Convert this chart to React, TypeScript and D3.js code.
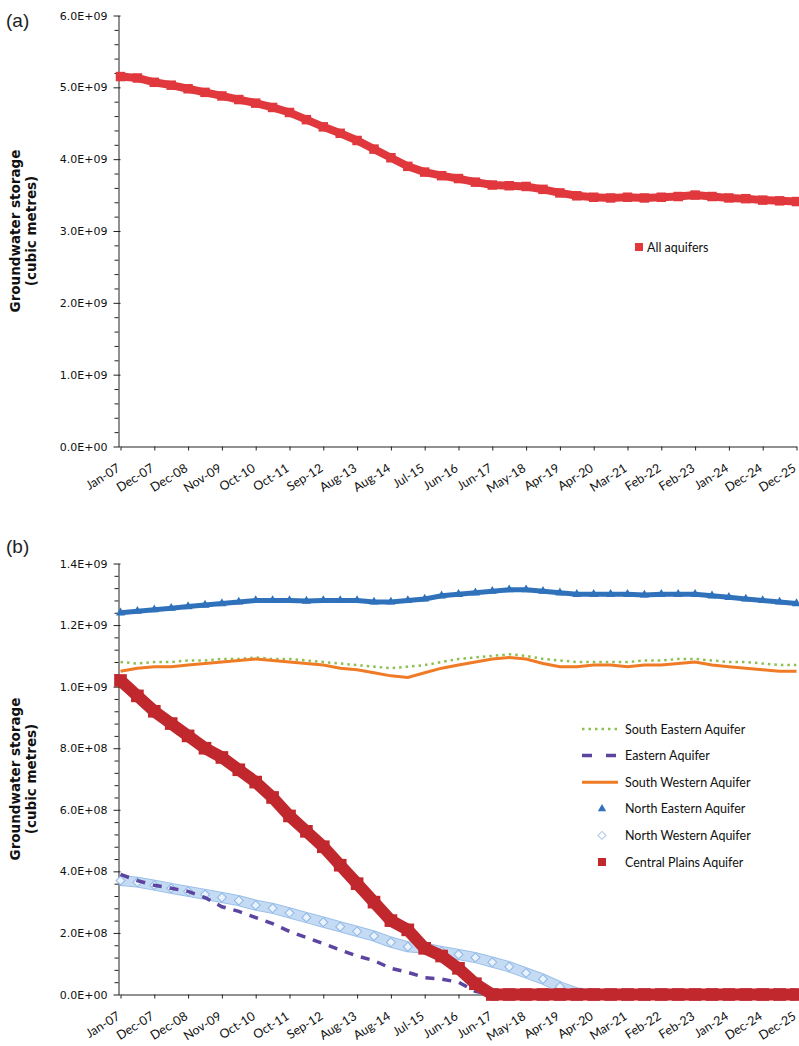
import React, { useEffect, useRef } from "react";
import * as d3 from "d3";

// x-axis tick labels (every second data point sits on a tick)
const tickLabels = [
  "Jan-07", "Dec-07", "Dec-08", "Nov-09", "Oct-10", "Oct-11", "Sep-12",
  "Aug-13", "Aug-14", "Jul-15", "Jun-16", "Jun-17", "May-18", "Apr-19",
  "Apr-20", "Mar-21", "Feb-22", "Feb-23", "Jan-24", "Dec-24", "Dec-25",
];

// panel (a), cubic metres x 1e9
const allAquifers = [
  5.15, 5.13, 5.07, 5.03, 4.98, 4.93, 4.88, 4.83, 4.78, 4.72, 4.65, 4.55,
  4.45, 4.36, 4.26, 4.14, 4.02, 3.9, 3.82, 3.77, 3.73, 3.68, 3.64, 3.63,
  3.62, 3.58, 3.53, 3.49, 3.47, 3.46, 3.47, 3.46, 3.47, 3.48, 3.5, 3.48,
  3.46, 3.45, 3.43, 3.42, 3.41,
];

// panel (b), cubic metres x 1e9
const southEastern = [
  1.08, 1.075, 1.08, 1.08, 1.085, 1.085, 1.09, 1.09, 1.095, 1.09, 1.09,
  1.085, 1.08, 1.075, 1.07, 1.065, 1.06, 1.065, 1.07, 1.08, 1.09, 1.095,
  1.1, 1.105, 1.1, 1.09, 1.085, 1.08, 1.08, 1.08, 1.08, 1.085, 1.085, 1.09,
  1.09, 1.085, 1.08, 1.08, 1.075, 1.07, 1.07,
];
const eastern = [
  0.39, 0.37, 0.355, 0.345, 0.335, 0.315, 0.285, 0.27, 0.25, 0.23, 0.205,
  0.185, 0.165, 0.145, 0.125, 0.11, 0.085, 0.072, 0.055, 0.05, 0.04, 0.01,
  0, 0, 0, 0, 0, 0, 0, 0, 0, 0, 0, 0, 0, 0, 0, 0, 0, 0, 0,
];
const southWestern = [
  1.05, 1.06, 1.065, 1.065, 1.07, 1.075, 1.08, 1.085, 1.09, 1.085, 1.08,
  1.075, 1.07, 1.06, 1.055, 1.045, 1.035, 1.03, 1.045, 1.06, 1.07, 1.08,
  1.09, 1.095, 1.09, 1.075, 1.065, 1.065, 1.07, 1.07, 1.065, 1.07, 1.07,
  1.075, 1.08, 1.07, 1.065, 1.06, 1.055, 1.05, 1.05,
];
const northEastern = [
  1.24, 1.245, 1.25, 1.255, 1.26, 1.265, 1.27, 1.275, 1.28, 1.28, 1.28,
  1.278, 1.28, 1.28, 1.28, 1.275, 1.275, 1.28, 1.285, 1.295, 1.3, 1.305,
  1.31, 1.315, 1.315, 1.31, 1.305, 1.3, 1.3, 1.3, 1.3, 1.298, 1.3, 1.3, 1.3,
  1.295, 1.29, 1.285, 1.28, 1.275, 1.27,
];
const northWestern = [
  0.37, 0.365, 0.355, 0.345, 0.335, 0.325, 0.315, 0.305, 0.29, 0.28, 0.265,
  0.25, 0.235, 0.22, 0.205, 0.19, 0.17, 0.155, 0.15, 0.14, 0.13, 0.12,
  0.105, 0.09, 0.07, 0.05, 0.025, 0.005, 0, 0, 0, 0, 0, 0, 0, 0, 0, 0, 0, 0, 0,
];
const centralPlains = [
  1.02, 0.97, 0.92, 0.88, 0.84, 0.8, 0.77, 0.73, 0.69, 0.64, 0.58, 0.53,
  0.48, 0.42, 0.36, 0.3, 0.24, 0.21, 0.15, 0.125, 0.085, 0.035, 0, 0, 0, 0,
  0, 0, 0, 0, 0, 0, 0, 0, 0, 0, 0, 0, 0, 0, 0,
];

const aTicks = [0, 1e9, 2e9, 3e9, 4e9, 5e9, 6e9];
const aTickLabels = ["0.0E+00", "1.0E+09", "2.0E+09", "3.0E+09", "4.0E+09", "5.0E+09", "6.0E+09"];
const bTicks = [0, 2e8, 4e8, 6e8, 8e8, 1e9, 1.2e9, 1.4e9];
const bTickLabels = ["0.0E+00", "2.0E+08", "4.0E+08", "6.0E+08", "8.0E+08", "1.0E+09", "1.2E+09", "1.4E+09"];

const W = 799;
const H = 1046;
const tickFont = "'DejaVu Sans', sans-serif";
const labelFont = "Lato, 'Open Sans', sans-serif";

export default function App() {
  const ref = useRef<SVGSVGElement>(null);

  useEffect(() => {
    const svg = d3.select(ref.current);
    svg.selectAll("*").remove();
    svg.append("rect").attr("width", W).attr("height", H).attr("fill", "#fff");

    const x = d3.scaleLinear().domain([0, allAquifers.length - 1]).range([120.5, 796.5]);

    function axes(y: d3.ScaleLinear<number, number>, top: number, majors: number[], labels: string[], minorStep: number) {
      const bottom = y.range()[0];
      // x axis
      const gx = svg.append("g").attr("transform", `translate(0,${bottom})`)
        .call(d3.axisBottom(x)
          .tickValues(d3.range(0, allAquifers.length, 2))
          .tickSize(4)
          .tickSizeOuter(0)
          .tickFormat((d: any) => tickLabels[d / 2]));
      gx.selectAll("path, line").attr("stroke", "#222");
      gx.selectAll("text")
        .attr("x", 0).attr("y", 0).attr("dy", 0)
        .attr("text-anchor", "end")
        .attr("transform", "translate(0,24) rotate(-32)")
        .attr("font-family", labelFont)
        .attr("font-size", 12.5)
        .attr("fill", "#111");

      // y axis, majors
      const gy = svg.append("g").attr("transform", "translate(118.5,0)")
        .call(d3.axisLeft(y)
          .tickValues(majors)
          .tickSize(5)
          .tickSizeOuter(0)
          .tickFormat((d, i) => labels[i]));
      gy.selectAll("path, line").attr("stroke", "#222");
      gy.selectAll(".tick line").attr("x2", 2).attr("x1", -5);
      gy.selectAll("text")
        .attr("x", -11)
        .attr("font-family", tickFont)
        .attr("font-size", 11)
        .attr("fill", "#111");

      // y axis, minors
      const minors = d3.range(0, y.domain()[1] + 1, minorStep).filter((v) => !majors.includes(v));
      const gm = svg.append("g").attr("transform", "translate(118.5,0)")
        .call(d3.axisLeft(y).tickValues(minors).tickSize(4).tickFormat(() => ""));
      gm.select(".domain").remove();
      gm.selectAll("line").attr("stroke", "#222");

      // axis title
      const mid = (top + bottom) / 2;
      const t = svg.append("text")
        .attr("transform", `translate(20,${mid}) rotate(-90)`)
        .attr("text-anchor", "middle")
        .attr("font-family", tickFont)
        .attr("font-weight", "bold")
        .attr("font-size", 13.5)
        .attr("fill", "#111");
      t.append("tspan").attr("x", 0).attr("y", 0).text("Groundwater storage");
      t.append("tspan").attr("x", 0).attr("y", 16).text("(cubic metres)");
    }

    function series(y: d3.ScaleLinear<number, number>, vals: number[], opts: any) {
      const line = d3.line<number>().x((d, i) => x(i)).y((d) => y(d * 1e9));
      const g = svg.append("g");
      if (opts.under) {
        g.append("path").attr("d", line(vals)).attr("fill", "none")
          .attr("stroke", opts.under).attr("stroke-width", opts.underWidth);
      }
      const p = g.append("path").attr("d", line(vals)).attr("fill", "none")
        .attr("stroke", opts.color).attr("stroke-width", opts.width)
        .attr("stroke-linejoin", "miter");
      if (opts.dash) p.attr("stroke-dasharray", opts.dash);
      if (opts.symbol) {
        g.selectAll("path.m").data(vals).enter().append("path")
          .attr("class", "m")
          .attr("d", d3.symbol().type(opts.symbol).size(opts.size)())
          .attr("transform", (d, i) => `translate(${x(i)},${y(d * 1e9)})${opts.rot ? " rotate(45)" : ""}`)
          .attr("fill", opts.fill)
          .attr("stroke", opts.stroke || "none")
          .attr("stroke-width", 1);
      }
    }

    // ---------- panel (a)
    const ya = d3.scaleLinear().domain([0, 6e9]).range([446.5, 15.5]);
    axes(ya, 15.5, aTicks, aTickLabels, 2e8);
    series(ya, allAquifers, { color: "#e0383d", width: 8, symbol: d3.symbolSquare, size: 90, fill: "#e0383d" });

    svg.append("rect").attr("x", 635).attr("y", 243).attr("width", 8).attr("height", 8).attr("fill", "#e0383d");
    svg.append("text").attr("x", 647).attr("y", 251.5).text("All aquifers")
      .attr("font-family", labelFont).attr("font-size", 12.5).attr("fill", "#111");

    svg.append("text").attr("x", 6).attr("y", 27).text("(a)")
      .attr("font-family", "'Liberation Sans', sans-serif").attr("font-size", 19).attr("fill", "#222");

    // ---------- panel (b)
    const yb = d3.scaleLinear().domain([0, 1.4e9]).range([994.5, 563.5]);
    axes(yb, 563.5, bTicks, bTickLabels, 4e7);

    series(yb, northWestern, { color: "#c4dbf3", width: 9, under: "#9cc0e9", underWidth: 11,
      symbol: d3.symbolSquare, size: 40, rot: true, fill: "#eaf2fc", stroke: "#8fb8e6" });
    series(yb, eastern, { color: "#5b45a0", width: 3.5, dash: "9,8" });
    series(yb, southEastern, { color: "#8cc152", width: 2.5, dash: "2.5,4" });
    series(yb, southWestern, { color: "#f07b26", width: 3 });
    series(yb, northEastern, { color: "#2f72bb", width: 5, symbol: d3.symbolTriangle, size: 36, fill: "#2f72bb" });
    series(yb, centralPlains, { color: "#c0282e", width: 12, symbol: d3.symbolSquare, size: 160, fill: "#c0282e" });

    svg.append("text").attr("x", 6).attr("y", 553).text("(b)")
      .attr("font-family", "'Liberation Sans', sans-serif").attr("font-size", 19).attr("fill", "#222");

    // legend (b)
    const legendItems = [
      { name: "South Eastern Aquifer", kind: "dot" },
      { name: "Eastern Aquifer", kind: "dash" },
      { name: "South Western Aquifer", kind: "line" },
      { name: "North Eastern Aquifer", kind: "tri" },
      { name: "North Western Aquifer", kind: "dia" },
      { name: "Central Plains Aquifer", kind: "sq" },
    ];
    const ly = d3.scalePoint().domain(legendItems.map((d) => d.name)).range([729, 862]);
    legendItems.forEach((it) => {
      const yy = ly(it.name)!;
      const g = svg.append("g").attr("transform", `translate(0,${yy})`);
      if (it.kind === "dot") {
        g.append("line").attr("x1", 582).attr("x2", 618).attr("stroke", "#8cc152")
          .attr("stroke-width", 2.5).attr("stroke-dasharray", "2.5,4");
      } else if (it.kind === "dash") {
        g.append("line").attr("x1", 582).attr("x2", 618).attr("stroke", "#5b45a0")
          .attr("stroke-width", 3.5).attr("stroke-dasharray", "10,14");
      } else if (it.kind === "line") {
        g.append("line").attr("x1", 582).attr("x2", 618).attr("stroke", "#f07b26").attr("stroke-width", 3);
      } else if (it.kind === "tri") {
        g.append("path").attr("d", d3.symbol().type(d3.symbolTriangle).size(30)())
          .attr("transform", "translate(602,0)").attr("fill", "#2f72bb");
      } else if (it.kind === "dia") {
        g.append("path").attr("d", d3.symbol().type(d3.symbolSquare).size(32)())
          .attr("transform", "translate(602,0) rotate(45)").attr("fill", "#fff")
          .attr("stroke", "#a9c7ea");
      } else {
        g.append("rect").attr("x", 598).attr("y", -4).attr("width", 8).attr("height", 8).attr("fill", "#c0282e");
      }
      g.append("text").attr("x", 625).attr("y", 4.5).text(it.name)
        .attr("font-family", labelFont).attr("font-size", 12.5).attr("fill", "#111");
    });
  }, []);

  return (
    <svg ref={ref} width={W} height={H} style={{ position: "absolute", left: 0, top: 0, background: "#fff" }} />
  );
}
